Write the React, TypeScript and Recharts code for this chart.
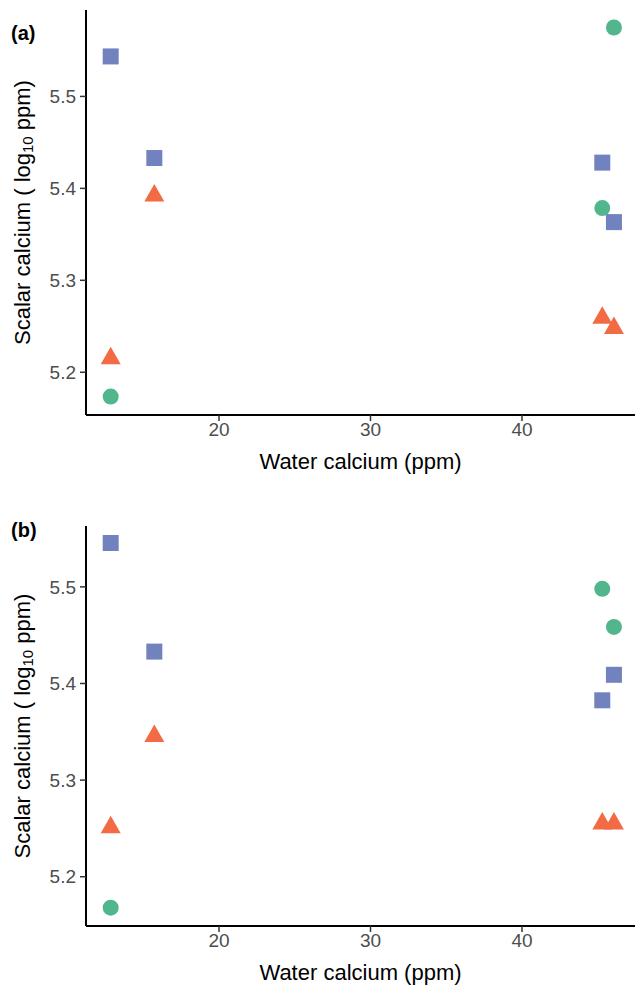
import React from 'react'
import { ScatterChart, Scatter, XAxis, YAxis } from 'recharts'

// water calcium (ppm) for each sampling site
const WATER_CA_LOW = 12.85
const WATER_CA_MID = 15.73
const WATER_CA_HIGH1 = 45.3
const WATER_CA_HIGH2 = 46.07

// panel (a)
const A_CIRCLES = [
  { x: WATER_CA_LOW, y: 5.1735 },
  { x: WATER_CA_HIGH1, y: 5.3786 },
  { x: WATER_CA_HIGH2, y: 5.575 },
]
const A_SQUARES = [
  { x: WATER_CA_LOW, y: 5.5435 },
  { x: WATER_CA_MID, y: 5.433 },
  { x: WATER_CA_HIGH1, y: 5.428 },
  { x: WATER_CA_HIGH2, y: 5.3633 },
]
const A_TRIANGLES = [
  { x: WATER_CA_LOW, y: 5.215 },
  { x: WATER_CA_MID, y: 5.392 },
  { x: WATER_CA_HIGH1, y: 5.259 },
  { x: WATER_CA_HIGH2, y: 5.248 },
]

// panel (b)
const B_CIRCLES = [
  { x: WATER_CA_LOW, y: 5.168 },
  { x: WATER_CA_HIGH1, y: 5.498 },
  { x: WATER_CA_HIGH2, y: 5.4585 },
]
const B_SQUARES = [
  { x: WATER_CA_LOW, y: 5.5454 },
  { x: WATER_CA_MID, y: 5.433 },
  { x: WATER_CA_HIGH1, y: 5.3826 },
  { x: WATER_CA_HIGH2, y: 5.409 },
]
const B_TRIANGLES = [
  { x: WATER_CA_LOW, y: 5.251 },
  { x: WATER_CA_MID, y: 5.3455 },
  { x: WATER_CA_HIGH1, y: 5.255 },
  { x: WATER_CA_HIGH2, y: 5.255 },
]

const X_TICKS = [20, 30, 40]
const Y_TICKS = [5.2, 5.3, 5.4, 5.5]

const GREEN = '#52B68C'
const BLUE = '#7282BE'
const ORANGE = '#F26B44'
const FONT = '"Liberation Sans", Arial, sans-serif'

// eslint-disable-next-line @typescript-eslint/no-explicit-any
const CircleShape = (p: any) => <circle cx={p.cx} cy={p.cy} r={8} fill={GREEN} />
// eslint-disable-next-line @typescript-eslint/no-explicit-any
const SquareShape = (p: any) => <rect x={p.cx - 8} y={p.cy - 8} width={16} height={16} fill={BLUE} />
// eslint-disable-next-line @typescript-eslint/no-explicit-any
const TriangleShape = (p: any) => {
  const h = 17.5
  const w = 10
  return (
    <polygon
      points={`${p.cx},${p.cy - (2 * h) / 3} ${p.cx - w},${p.cy + h / 3} ${p.cx + w},${p.cy + h / 3}`}
      fill={ORANGE}
    />
  )
}

// eslint-disable-next-line @typescript-eslint/no-explicit-any
function YTitle({ viewBox }: any) {
  const cx = 22
  const cy = viewBox.y + viewBox.height / 2
  return (
    <text
      x={cx}
      y={cy}
      transform={`rotate(-90, ${cx}, ${cy})`}
      textAnchor="middle"
      dominantBaseline="central"
      style={{ fontFamily: FONT, fontSize: 22, fill: '#000' }}
    >
      Scalar calcium ( log
      <tspan fontSize={15} dy={5}>10</tspan>
      <tspan dy={-5}> ppm)</tspan>
    </text>
  )
}

interface PanelProps {
  tag: string
  height: number
  margin: { top: number; right: number; bottom: number; left: number }
  yDomain: [number, number]
  circles: { x: number; y: number }[]
  squares: { x: number; y: number }[]
  triangles: { x: number; y: number }[]
  tagY: number
}

function Panel({ tag, height, margin, yDomain, circles, squares, triangles, tagY }: PanelProps) {
  const tick = { fill: '#4D4D4D', fontSize: 19, fontFamily: FONT }
  return (
    <div style={{ position: 'relative', width: 635, height }}>
      <ScatterChart width={635} height={height} margin={margin}>
        <XAxis
          type="number"
          dataKey="x"
          domain={[11.22, 47.46]}
          allowDataOverflow
          ticks={X_TICKS}
          tick={tick}
          tickSize={6}
          tickMargin={2}
          axisLine={{ stroke: '#000', strokeWidth: 2 }}
          tickLine={{ stroke: '#333', strokeWidth: 1.5 }}
          height={60}
          label={{
            value: 'Water calcium (ppm)',
            position: 'insideBottom',
            offset: 6,
            style: { fontFamily: FONT, fontSize: 22, fill: '#000' },
          }}
        />
        <YAxis
          type="number"
          dataKey="y"
          domain={yDomain}
          allowDataOverflow
          ticks={Y_TICKS}
          tickFormatter={(v) => v.toFixed(1)}
          tick={tick}
          tickSize={6}
          tickMargin={4}
          axisLine={{ stroke: '#000', strokeWidth: 2 }}
          tickLine={{ stroke: '#333', strokeWidth: 1.5 }}
          width={60}
          label={<YTitle />}
        />
        <Scatter data={circles} shape={CircleShape} isAnimationActive={false} />
        <Scatter data={squares} shape={SquareShape} isAnimationActive={false} />
        <Scatter data={triangles} shape={TriangleShape} isAnimationActive={false} />
      </ScatterChart>
      <div
        style={{
          position: 'absolute',
          left: 11,
          top: tagY,
          fontFamily: FONT,
          fontWeight: 'bold',
          fontSize: 20,
          lineHeight: '20px',
        }}
      >
        {tag}
      </div>
    </div>
  )
}

export default function App() {
  return (
    <div style={{ position: 'absolute', left: 0, top: 0, width: 635, height: 991, background: '#fff' }}>
      <Panel
        tag="(a)"
        height={495}
        margin={{ top: 10, right: 0, bottom: 20, left: 26 }}
        yDomain={[5.1535, 5.594]}
        circles={A_CIRCLES}
        squares={A_SQUARES}
        triangles={A_TRIANGLES}
        tagY={23}
      />
      <Panel
        tag="(b)"
        height={496}
        margin={{ top: 31, right: 0, bottom: 5, left: 26 }}
        yDomain={[5.149, 5.563]}
        circles={B_CIRCLES}
        squares={B_SQUARES}
        triangles={B_TRIANGLES}
        tagY={25}
      />
    </div>
  )
}
